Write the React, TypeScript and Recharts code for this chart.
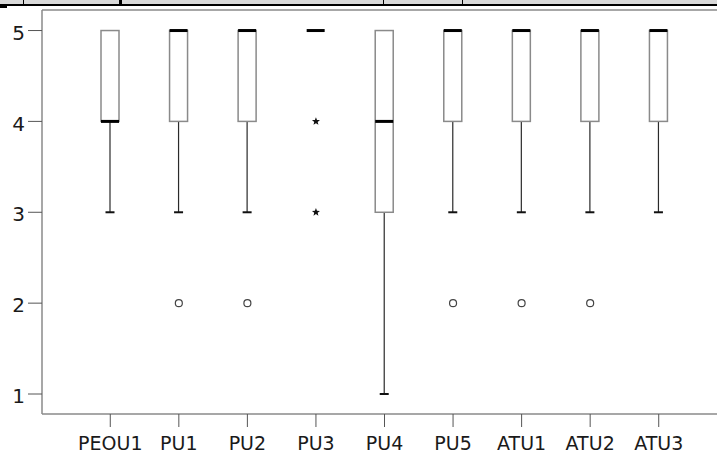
import React from "react";
import {
  ComposedChart,
  Bar,
  Scatter,
  XAxis,
  YAxis,
  ReferenceLine,
} from "recharts";

// box plot summary per item (Likert 1-5)
const categories = ["PEOU1", "PU1", "PU2", "PU3", "PU4", "PU5", "ATU1", "ATU2", "ATU3"];
const mins = [3, 3, 3, 5, 1, 3, 3, 3, 3];
const q1s = [4, 4, 4, 5, 3, 4, 4, 4, 4];
const medians = [4, 5, 5, 5, 4, 5, 5, 5, 5];
const q3s = [5, 5, 5, 5, 5, 5, 5, 5, 5];
const maxs = [5, 5, 5, 5, 5, 5, 5, 5, 5];
// outliers (circles) and extremes (stars)
const outliers = [null, 2, 2, null, null, 2, 2, 2, null];
const extremesA = [null, null, null, 4, null, null, null, null, null];
const extremesB = [null, null, null, 3, null, null, null, null, null];
const yTicks = [1, 2, 3, 4, 5];

const Y_MIN = 0.78;
const Y_MAX = 5.226;

const data = categories.map((name, i) => ({
  name,
  min: mins[i],
  q1: q1s[i],
  median: medians[i],
  q3: q3s[i],
  max: maxs[i],
  outlier: outliers[i],
  extremeA: extremesA[i],
  extremeB: extremesB[i],
}));

const BoxShape = (props: any) => {
  const { x, y, width, height, payload } = props;
  if (!payload) return null;
  const top = Math.min(y, y + height);
  const h = Math.abs(height);
  const span = payload.max - payload.min;
  const py = (v: number) => (span === 0 ? top : top + (h * (payload.max - v)) / span);
  const cx = x + width / 2;
  const capW = 9;
  const yMin = py(payload.min);
  const yQ1 = py(payload.q1);
  const yMed = py(payload.median);
  const yQ3 = py(payload.q3);
  const yMax = py(payload.max);
  return (
    <g>
      {payload.min < payload.q1 && (
        <>
          <line x1={cx} x2={cx} y1={yQ1} y2={yMin} stroke="#2a2a2a" strokeWidth={1.2} />
          <line x1={cx - capW / 2} x2={cx + capW / 2} y1={yMin} y2={yMin} stroke="#111" strokeWidth={2} />
        </>
      )}
      {payload.max > payload.q3 && (
        <>
          <line x1={cx} x2={cx} y1={yMax} y2={yQ3} stroke="#2a2a2a" strokeWidth={1.2} />
          <line x1={cx - capW / 2} x2={cx + capW / 2} y1={yMax} y2={yMax} stroke="#111" strokeWidth={2} />
        </>
      )}
      {payload.q3 > payload.q1 && (
        <rect
          x={x}
          y={yQ3}
          width={width}
          height={yQ1 - yQ3}
          fill="#fff"
          stroke="#8a8a8a"
          strokeWidth={1.5}
        />
      )}
      <line x1={x} x2={x + width} y1={yMed} y2={yMed} stroke="#000" strokeWidth={3} />
    </g>
  );
};

const CircleShape = (props: any) => {
  const { cx, cy } = props;
  if (!Number.isFinite(cx) || !Number.isFinite(cy)) return <g />;
  return <circle cx={cx} cy={cy} r={3.5} fill="#fff" stroke="#444" strokeWidth={1.2} />;
};

const StarShape = (props: any) => {
  const { cx, cy } = props;
  if (!Number.isFinite(cx) || !Number.isFinite(cy)) return <g />;
  const pts: string[] = [];
  for (let k = 0; k < 10; k++) {
    const r = k % 2 === 0 ? 4.2 : 1.8;
    const a = -Math.PI / 2 + (k * Math.PI) / 5;
    pts.push(`${cx + r * Math.cos(a)},${cy + r * Math.sin(a)}`);
  }
  return <polygon points={pts.join(" ")} fill="#111" />;
};

const tickFont = { fontFamily: "DejaVu Sans", fill: "#1a1a1a" };

export default function App() {
  return (
    <div
      style={{
        position: "absolute",
        left: 0,
        top: 0,
        width: 717,
        height: 453,
        overflow: "hidden",
        background: "#fff",
      }}
    >
      <ComposedChart
        width={740}
        height={453}
        data={data}
        margin={{ top: 10, right: 0, bottom: 0, left: 0 }}
        style={{ position: "absolute", left: 0, top: 0 }}
      >
        <XAxis
          dataKey="name"
          type="category"
          interval={0}
          padding={{ left: 34, right: 47 }}
          height={39}
          tickSize={13}
          tickMargin={10}
          axisLine={{ stroke: "#8a8a8a", strokeWidth: 1.5 }}
          tickLine={{ stroke: "#555" }}
          tick={{ ...tickFont, fontSize: 19 }}
        />
        <YAxis
          type="number"
          domain={[Y_MIN, Y_MAX]}
          ticks={yTicks}
          allowDataOverflow
          width={42}
          tickSize={14}
          tickMargin={3}
          axisLine={{ stroke: "#8a8a8a", strokeWidth: 1.5 }}
          tickLine={{ stroke: "#555" }}
          tick={{ ...tickFont, fontSize: 20, dy: 2 }}
        />
        <ReferenceLine y={Y_MAX} stroke="#8a8a8a" strokeWidth={1.5} />
        <Bar
          dataKey={(d: any) => [d.min, d.max]}
          barSize={18}
          shape={<BoxShape />}
          isAnimationActive={false}
        />
        <Scatter dataKey="outlier" shape={<CircleShape />} isAnimationActive={false} />
        <Scatter dataKey="extremeA" shape={<StarShape />} isAnimationActive={false} />
        <Scatter dataKey="extremeB" shape={<StarShape />} isAnimationActive={false} />
      </ComposedChart>
      {/* strip of a table cut off above the chart */}
      <div style={{ position: "absolute", left: 0, top: 0, width: 717, height: 4, background: "#d9d9d9" }} />
      <div style={{ position: "absolute", left: 0, top: 4, width: 717, height: 2, background: "#000" }} />
      <div style={{ position: "absolute", left: 0, top: 6, width: 7, height: 2, background: "#000" }} />
      <div style={{ position: "absolute", left: 23, top: 0, width: 1, height: 5, background: "#000" }} />
      <div style={{ position: "absolute", left: 119, top: 0, width: 3, height: 5, background: "#000" }} />
      <div style={{ position: "absolute", left: 383, top: 0, width: 1, height: 5, background: "#000" }} />
      <div style={{ position: "absolute", left: 462, top: 0, width: 1, height: 5, background: "#000" }} />
    </div>
  );
}
